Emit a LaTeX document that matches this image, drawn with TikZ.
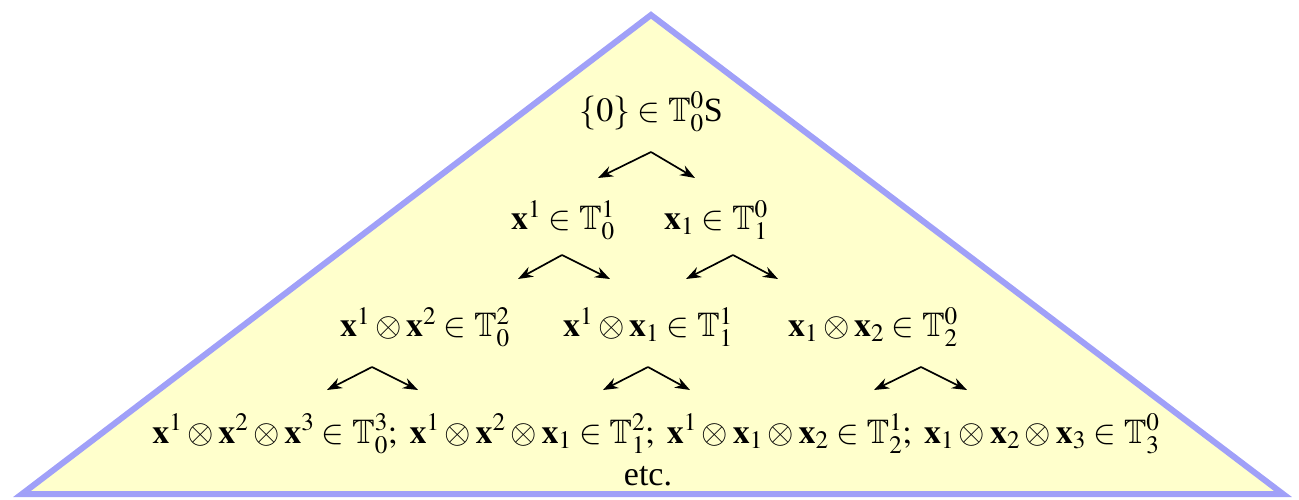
\documentclass[tikz,border=0pt]{standalone}
\usepackage{mathptmx}
\usepackage{amssymb}
\usepackage[no-math]{fontspec}
\setmainfont{Liberation Serif}
\usetikzlibrary{arrows.meta}
\definecolor{triborder}{RGB}{160,160,248}
\definecolor{trifill}{RGB}{255,255,204}
\begin{document}
\begin{tikzpicture}[x=1pt,y=-1pt,
  lbl/.style={font=\fontsize{34}{40}\selectfont, inner sep=0pt, anchor=center},
  arr/.style={-{Stealth[length=15pt,width=11pt]}, line width=1.7pt, black}]
\useasboundingbox (0,0) rectangle (1299,499);
\draw[draw=triborder, fill=trifill, line width=6pt, line join=miter] (22,494) -- (651,15) -- (1283,494) -- cycle;

\node[lbl] (r1) at (651,112) {$\{0\}\in\mathbb{T}_0^0\textrm{S}$};

\node[lbl] (r2a) at (563,220) {$\mathbf{x}^1\in\mathbb{T}_0^1$};
\node[lbl] (r2b) at (716,220) {$\mathbf{x}_1\in\mathbb{T}_1^0$};

\node[lbl] (r3a) at (425,327) {$\mathbf{x}^1\otimes\mathbf{x}^2\in\mathbb{T}_0^2$};
\node[lbl] (r3b) at (648,327) {$\mathbf{x}^1\otimes\mathbf{x}_1\in\mathbb{T}_1^1$};
\node[lbl] (r3c) at (873,327) {$\mathbf{x}_1\otimes\mathbf{x}_2\in\mathbb{T}_2^0$};

\node[lbl] (r4) at (656,434) {$\mathbf{x}^1\otimes\mathbf{x}^2\otimes\mathbf{x}^3\in\mathbb{T}_0^3;\ \mathbf{x}^1\otimes\mathbf{x}^2\otimes\mathbf{x}_1\in\mathbb{T}_1^2;\ \mathbf{x}^1\otimes\mathbf{x}_1\otimes\mathbf{x}_2\in\mathbb{T}_2^1;\ \mathbf{x}_1\otimes\mathbf{x}_2\otimes\mathbf{x}_3\in\mathbb{T}_3^0$};

\node[lbl] (etc) at (648,476) {etc.};

% arrows
\coordinate (p1) at (651,152); \coordinate (p1l) at (598,178); \coordinate (p1r) at (695,178);
\coordinate (p2) at (562,255); \coordinate (p2l) at (518,279); \coordinate (p2r) at (610,279);
\coordinate (p3) at (733,255); \coordinate (p3l) at (686,279); \coordinate (p3r) at (778,279);
\coordinate (p4) at (372,367); \coordinate (p4l) at (327,390); \coordinate (p4r) at (418,390);
\coordinate (p5) at (648,367); \coordinate (p5l) at (603,390); \coordinate (p5r) at (690,390);
\coordinate (p6) at (921,367); \coordinate (p6l) at (874,390); \coordinate (p6r) at (967,390);
\foreach \p in {p1,p2,p3,p4,p5,p6}{
  \draw[arr] (\p) -- (\p l);
  \draw[arr] (\p) -- (\p r);
}
\end{tikzpicture}
\end{document}
